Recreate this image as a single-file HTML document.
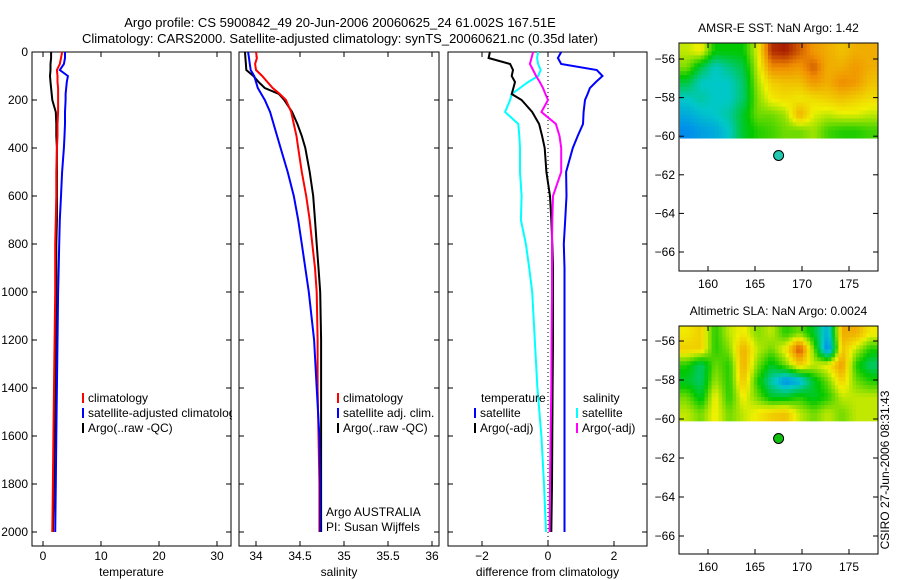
<!DOCTYPE html>
<html><head><meta charset="utf-8"><style>
body{margin:0;background:#fff;}
svg{display:block;font-family:"Liberation Sans",sans-serif;font-size:12px;}
</style></head><body>
<svg id="c" width="900" height="580" viewBox="0 0 900 580">
<text x="340" y="27" text-anchor="middle" font-size="13">Argo profile: CS 5900842_49 20-Jun-2006 20060625_24 61.002S 167.51E</text>
<text x="340" y="43" text-anchor="middle" font-size="13">Climatology: CARS2000. Satellite-adjusted climatology: synTS_20060621.nc (0.35d later)</text>
</svg>
<script>
const depths=[0,25,50,75,100,125,150,175,200,250,300,350,400,500,600,700,800,900,1000,1200,1400,1600,1800,2000];
const tArgo=[1.4,1.4,1.3,1.3,1.2,1.3,1.4,1.5,1.6,2.2,2.3,2.3,2.4,2.4,2.4,2.4,2.3,2.3,2.3,2.2,2.1,2.0,1.9,1.7];
const tClim=[3.3,3.1,2.9,2.4,2.5,2.5,2.6,2.6,2.6,2.6,2.5,2.5,2.4,2.3,2.3,2.2,2.1,2.1,2.1,2.0,1.9,1.8,1.7,1.6];
const tSat=[3.8,3.8,3.6,2.9,4.3,4.1,4.0,3.9,3.9,3.8,3.8,3.7,3.6,3.3,3.1,2.9,2.8,2.7,2.6,2.5,2.4,2.3,2.2,2.1];
const sArgo=[33.875,33.88,33.885,33.89,33.97,34.03,34.1,34.26,34.32,34.41,34.47,34.52,34.56,34.61,34.65,34.67,34.69,34.71,34.73,34.74,34.74,34.74,34.74,34.74];
const sClim=[34.0,34.01,33.99,34.0,34.07,34.13,34.19,34.27,34.34,34.4,34.43,34.46,34.48,34.52,34.57,34.61,34.64,34.67,34.69,34.7,34.7,34.71,34.72,34.72];
const sSat=[33.91,33.92,33.93,33.94,33.98,34.0,34.02,34.06,34.1,34.16,34.2,34.24,34.28,34.36,34.43,34.48,34.52,34.56,34.6,34.66,34.69,34.72,34.73,34.73];
const dTSat=[0.4,0.3,0.4,1.48,1.65,1.45,1.27,1.2,1.12,1.08,1.06,0.9,0.75,0.55,0.56,0.52,0.48,0.5,0.5,0.5,0.5,0.5,0.5,0.5];
const dTArgo=[-1.76,-1.8,-1.15,-1.06,-1.1,-1.0,-1.05,-1.1,-0.8,-0.48,-0.27,-0.18,-0.1,-0.05,0.06,0.1,0.13,0.15,0.15,0.15,0.14,0.13,0.12,0.1];
const dSSat=[-0.3,-0.33,-0.3,-0.22,-0.3,-0.6,-0.85,-1.1,-1.15,-1.3,-0.9,-0.87,-0.85,-0.85,-0.8,-0.82,-0.67,-0.57,-0.48,-0.4,-0.32,-0.2,-0.12,-0.06];
const dSArgo=[-0.45,-0.5,-0.55,-0.45,-0.36,-0.25,-0.15,-0.08,0,-0.2,0.24,0.35,0.4,0.4,0.15,0.13,0.12,0.12,0.12,0.11,0.1,0.08,0.06,0.05];
const depthTicks=[0,200,400,600,800,1000,1200,1400,1600,1800,2000];
const tempTicks=[0,10,20,30];
const salTicks=[34,34.5,35,35.5,36];
const diffTicks=[-2,0,2];
const latTicks=[-56,-58,-60,-62,-64,-66];
const lonTicks=[160,165,170,175];
const mapLons=[157,158.5,160,161.5,163,164.5,166,167.5,169,170.5,172,173.5,175,176.5,178];
const mapLats=[-55.2,-56.0,-56.8,-57.6,-58.4,-59.2,-60.1];
const sstGrid=[
[0.62,0.66,0.5,0.5,0.5,0.64,0.9,0.92,0.85,0.78,0.75,0.72,0.75,0.75],
[0.58,0.45,0.35,0.4,0.45,0.62,0.8,0.8,0.78,0.85,0.75,0.75,0.78,0.75],
[0.45,0.35,0.35,0.35,0.42,0.6,0.7,0.72,0.72,0.78,0.75,0.8,0.78,0.72],
[0.35,0.38,0.35,0.35,0.42,0.58,0.66,0.68,0.66,0.68,0.7,0.72,0.7,0.68],
[0.3,0.33,0.35,0.38,0.47,0.57,0.57,0.6,0.75,0.64,0.62,0.64,0.64,0.62],
[0.25,0.28,0.3,0.35,0.47,0.52,0.54,0.57,0.57,0.6,0.54,0.52,0.52,0.54]];
const slaGrid=[
[0.66,0.7,0.52,0.62,0.66,0.58,0.62,0.52,0.57,0.47,0.3,0.75,0.75,0.66],
[0.7,0.7,0.52,0.58,0.75,0.62,0.57,0.66,0.88,0.57,0.22,0.72,0.62,0.52],
[0.52,0.42,0.57,0.52,0.75,0.58,0.47,0.57,0.7,0.62,0.66,0.78,0.52,0.42],
[0.47,0.42,0.6,0.52,0.72,0.52,0.37,0.25,0.3,0.47,0.57,0.7,0.57,0.52],
[0.57,0.47,0.66,0.52,0.66,0.57,0.47,0.47,0.52,0.47,0.52,0.62,0.62,0.62],
[0.62,0.57,0.66,0.57,0.62,0.66,0.7,0.72,0.62,0.57,0.62,0.57,0.62,0.62]];
const argoLon=[167.51], argoLat=[-61.0];

const svg=document.getElementById('c');
const NS='http://www.w3.org/2000/svg';
function mk(tag,attrs,parent){const e=document.createElementNS(NS,tag);for(const k in attrs)e.setAttribute(k,attrs[k]);(parent||svg).appendChild(e);return e;}
const Y0=52,Ypm=0.24,PT=52,PB=546;
const yD=d=>Y0+d*Ypm;
function panel(x0,x1,xf,ticks,title,name,labelFmt){
  const g=mk('g',{});
  
  
  const r=mk('rect',{x:x0,y:PT,width:x1-x0,height:PB-PT,fill:'#fff',stroke:'#000','stroke-width':1},g);
  
  
  ticks.forEach(t=>{const x=xf(t);
    mk('line',{x1:x,x2:x,y1:PT,y2:PT+5,stroke:'#000'},g);
    mk('line',{x1:x,x2:x,y1:PB,y2:PB-5,stroke:'#000'},g);
    const tx=mk('text',{x:x,y:PB+14,'text-anchor':'middle'},g);tx.textContent=labelFmt?labelFmt(t):t;
    
    });
  depthTicks.forEach(d=>{const y=yD(d);
    mk('line',{x1:x0,x2:x0+5,y1:y,y2:y,stroke:'#000'},g);
    mk('line',{x1:x1,x2:x1-5,y1:y,y2:y,stroke:'#000'},g);});
  const t=mk('text',{x:(x0+x1)/2,y:576,'text-anchor':'middle'},g);t.textContent=title;
  
  
  return g;
}
function line(g,xf,vals,color,name,w){
  const pts=vals.map((v,i)=>xf(v).toFixed(1)+','+yD(depths[i]).toFixed(1)).join(' ');
  const p=mk('polyline',{points:pts,fill:'none',stroke:color,'stroke-width':w||2},g);
  
  
}
function legend(g,x,y,color,text,name){
  mk('rect',{x:x,y:y-9,width:2,height:10,fill:color},g);
  const t=mk('text',{x:x+6,y:y},g);t.textContent=text;
  
  
}
const xT=v=>43+v*5.8;
const g1=panel(32,231,xT,tempTicks,'temperature','temperature-panel');
depthTicks.forEach(d=>{const t=mk('text',{x:28,y:yD(d)+4,'text-anchor':'end'});t.textContent=d;
  
  });
line(g1,xT,tArgo,'#000','temp-argo-line');
line(g1,xT,tClim,'#f00','temp-climatology-line');
line(g1,xT,tSat,'#00f','temp-satellite-line');
legend(g1,82,402,'#f00','climatology','temp-legend-climatology');
legend(g1,82,417,'#00f','satellite-adjusted climatology','temp-legend-satellite');
legend(g1,82,432,'#000','Argo(..raw -QC)','temp-legend-argo');
const xS=v=>256+(v-34)*88;
const g2=panel(239,439,xS,salTicks,'salinity','salinity-panel');
mk('rect',{x:232,y:380,width:6.5,height:60,fill:'#fff'});
line(g2,xS,sArgo,'#000','sal-argo-line');
line(g2,xS,sClim,'#f00','sal-climatology-line');
line(g2,xS,sSat,'#00f','sal-satellite-line');
legend(g2,337,402,'#f00','climatology','sal-legend-climatology');
legend(g2,337,417,'#00f','satellite adj. clim.','sal-legend-satellite');
legend(g2,337,432,'#000','Argo(..raw -QC)','sal-legend-argo');
[['Argo AUSTRALIA',516,'argo-country-label'],['PI: Susan Wijffels',531,'pi-label']].forEach(a=>{
  const t=mk('text',{x:326,y:a[1]},g2);t.textContent=a[0];
  
  });
const xDf=v=>548+v*33;
const g3=panel(448,647,xDf,diffTicks,'difference from climatology','difference-panel',t=>t<0?'−'+(-t):t);
mk('line',{x1:xDf(0),x2:xDf(0),y1:PT,y2:PB,stroke:'#000','stroke-dasharray':'1,3'},g3);
line(g3,xDf,dSSat,'#0ff','diff-sal-satellite-line');
line(g3,xDf,dTArgo,'#000','diff-temp-argo-line');
line(g3,xDf,dSArgo,'#f0f','diff-sal-argo-line');
line(g3,xDf,dTSat,'#00f','diff-temp-satellite-line');
[['temperature',481,'diff-legend-temperature'],['salinity',583,'diff-legend-salinity']].forEach(a=>{
  const t=mk('text',{x:a[1],y:402},g3);t.textContent=a[0];
  
  });
legend(g3,474,417,'#00f','satellite','diff-legend-temp-satellite');
legend(g3,474,432,'#000','Argo(-adj)','diff-legend-temp-argo');
legend(g3,576,417,'#0ff','satellite','diff-legend-sal-satellite');
legend(g3,576,432,'#f0f','Argo(-adj)','diff-legend-sal-argo');
function cmap(v){
  const st=[[0.2,[0,110,255]],[0.35,[0,200,200]],[0.5,[0,200,0]],[0.65,[240,240,0]],[0.8,[240,140,0]],[0.95,[150,0,0]]];
  if(v<=st[0][0])return 'rgb('+st[0][1]+')';
  for(let i=1;i<st.length;i++){if(v<=st[i][0]){const f=(v-st[i-1][0])/(st[i][0]-st[i-1][0]);
    const c=st[i-1][1].map((a,k)=>Math.round(a+(st[i][1][k]-a)*f));return 'rgb('+c+')';}}
  return 'rgb('+st[st.length-1][1]+')';
}
function sample(grid,fr,fc){
  const R=grid.length,C=grid[0].length;
  let r=Math.min(Math.max(fr-0.5,0),R-1),c=Math.min(Math.max(fc-0.5,0),C-1);
  const r0=Math.floor(r),c0=Math.floor(c),r1=Math.min(r0+1,R-1),c1=Math.min(c0+1,C-1);
  const a=r-r0,b=c-c0;
  return grid[r0][c0]*(1-a)*(1-b)+grid[r0][c1]*(1-a)*b+grid[r1][c0]*a*(1-b)+grid[r1][c1]*a*b;
}
function map(top,y56,y66,grid,title,name,dotColor){
  const x0=679,x1=878,bot=top+228;
  const xL=l=>708+(l-160)*9.4;
  const yL=l=>y56+(-56-l)*(y66-y56)/10;
  const g=mk('g',{});
  
  
  const S=4,R=grid.length,C=grid[0].length;
  for(let r=0;r<R*S;r++)for(let c=0;c<C*S;c++){
    const v=sample(grid,(r+0.5)/S,(c+0.5)/S);
    const la0=mapLats[0]+(mapLats[R]-mapLats[0])*r/(R*S), la1=mapLats[0]+(mapLats[R]-mapLats[0])*(r+1)/(R*S);
    const lo0=mapLons[0]+(mapLons[C]-mapLons[0])*c/(C*S), lo1=mapLons[0]+(mapLons[C]-mapLons[0])*(c+1)/(C*S);
    const xa=Math.max(x0,xL(lo0)),xb=Math.min(x1,xL(lo1));
    const ya=Math.max(top,yL(la0)),yb=yL(la1);
    if(xb<=xa)continue;
    const cell=mk('rect',{x:xa,y:ya,width:xb-xa+0.4,height:yb-ya+0.4,fill:cmap(v)},g);
    
    
  }
  const fr=mk('rect',{x:x0,y:top,width:x1-x0,height:bot-top,fill:'none',stroke:'#000'},g);
  
  
  latTicks.forEach(l=>{const y=yL(l);
    mk('line',{x1:x0,x2:x0+5,y1:y,y2:y,stroke:'#000'},g);mk('line',{x1:x1,x2:x1-5,y1:y,y2:y,stroke:'#000'},g);
    const t=mk('text',{x:x0-4,y:y+4,'text-anchor':'end'},g);t.textContent='−'+(-l);
    
    });
  lonTicks.forEach(l=>{const x=xL(l);
    mk('line',{x1:x,x2:x,y1:top,y2:top+5,stroke:'#000'},g);mk('line',{x1:x,x2:x,y1:bot,y2:bot-5,stroke:'#000'},g);
    const t=mk('text',{x:x,y:bot+17,'text-anchor':'middle'},g);t.textContent=l;
    
    });
  const tt=mk('text',{x:(x0+x1)/2,y:top-11,'text-anchor':'middle'},g);tt.textContent=title;
  
  
  const d=mk('circle',{cx:xL(argoLon[0]),cy:yL(argoLat[0]),r:5,fill:dotColor,stroke:'#000'},g);
  
  
}
map(43,59,252,sstGrid,'AMSR-E SST: NaN Argo: 1.42','sst-map','#20c8b0');
map(326,341,536,slaGrid,'Altimetric SLA: NaN Argo: 0.0024','sla-map','#10c010');
const cs=mk('text',{x:0,y:0,'text-anchor':'middle',transform:'translate(889,470) rotate(-90)'});
cs.textContent='CSIRO 27-Jun-2006 08:31:43';


</script>
</body></html>
